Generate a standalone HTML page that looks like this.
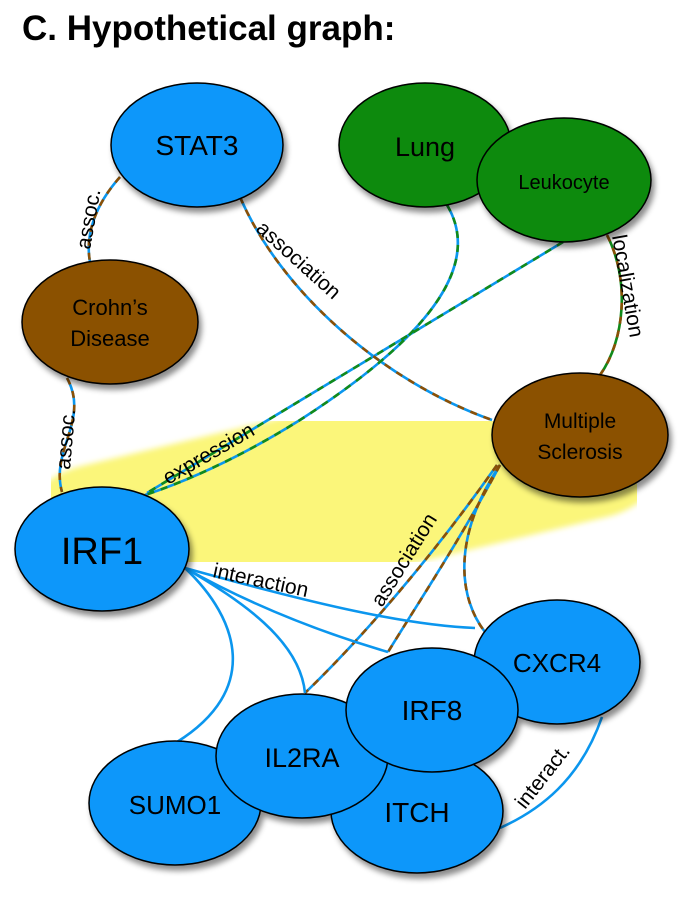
<!DOCTYPE html>
<html><head><meta charset="utf-8"><style>
body{margin:0;background:#fff;}
svg{display:block;}
text{font-family:"Liberation Sans",sans-serif;}
</style></head><body>
<svg width="695" height="900" viewBox="0 0 695 900">
<defs>
<filter id="sh" x="-20%" y="-20%" width="140%" height="150%"><feDropShadow dx="3" dy="5" stdDeviation="3" flood-color="#000" flood-opacity="0.45"/></filter>
<filter id="bl"><feGaussianBlur stdDeviation="3"/></filter>
</defs>
<text x="22" y="40" font-size="35" font-weight="bold" fill="#000">C. Hypothetical graph:</text>
<line x1="100" y1="550" x2="588" y2="433" stroke="#fbf67a" stroke-width="172" stroke-linecap="round" filter="url(#bl)"/>
<g fill="none" stroke-width="2.6">
<!-- bicolor brown/blue -->
<g stroke="#0b96ee">
<path d="M120,177 C95,205 85,235 90,262"/>
<path d="M240,197 C280,290 380,380 492,420"/>
<path d="M67,378 C90,420 50,450 62,492"/>
<path d="M497,465 C430,560 360,640 305,693"/>
<path d="M500,465 C460,540 420,600 388,652"/>
<path d="M500,465 C450,540 460,600 485,632"/>
<path d="M447,205 C480,260 440,330 300,420 C220,470 160,490 145,495"/>
<path d="M563,242 L147,493"/>
</g>
<g stroke="#8b5006" stroke-dasharray="7 7">
<path d="M120,177 C95,205 85,235 90,262"/>
<path d="M240,197 C280,290 380,380 492,420"/>
<path d="M67,378 C90,420 50,450 62,492"/>
<path d="M497,465 C430,560 360,640 305,693"/>
<path d="M500,465 C460,540 420,600 388,652"/>
<path d="M500,465 C450,540 460,600 485,632"/>
</g>
<g stroke="#118a1a" stroke-dasharray="7 7">
<path d="M447,205 C480,260 440,330 300,420 C220,470 160,490 145,495"/>
<path d="M563,242 L147,493"/>
</g>
<path d="M607,235 C630,280 625,340 600,375" stroke="#118a1a"/>
<path d="M607,235 C630,280 625,340 600,375" stroke="#8b5006" stroke-dasharray="7 7"/>
<!-- blue -->
<g stroke="#0b96ee">
<path d="M185,568 C300,600 400,625 475,628"/>
<path d="M185,568 C260,610 330,635 388,652"/>
<path d="M185,568 C240,600 300,640 305,693"/>
<path d="M185,568 C240,620 260,690 177,742"/>
<path d="M602,717 C580,780 540,810 500,828"/>
</g>
</g>
<g font-size="21" fill="#000">
<text transform="translate(90,250) rotate(-80)">assoc.</text>
<text transform="translate(70,470) rotate(-85)">assoc.</text>
<text transform="translate(255,230) rotate(42)">association</text>
<text transform="translate(168,485) rotate(-30)">expression</text>
<text transform="translate(612,236) rotate(80)">localization</text>
<text transform="translate(212,577) rotate(12)">interaction</text>
<text transform="translate(382,608) rotate(-58)">association</text>
<text transform="translate(525,810) rotate(-52)">interact.</text>
</g>
<g stroke="#000" stroke-width="1.5" filter="url(#sh)">
<ellipse cx="197" cy="145" rx="86" ry="62" fill="#0797fa"/>
<ellipse cx="425" cy="145" rx="86" ry="62" fill="#078a08"/>
<ellipse cx="564" cy="180" rx="87" ry="62" fill="#078a08"/>
<ellipse cx="110" cy="322" rx="88" ry="62" fill="#8b5103"/>
<ellipse cx="580" cy="435" rx="88" ry="62" fill="#8b5103"/>
<ellipse cx="102" cy="549" rx="87" ry="62" fill="#0797fa"/>
<ellipse cx="175" cy="803" rx="86" ry="62" fill="#0797fa"/>
<ellipse cx="417" cy="811" rx="86" ry="62" fill="#0797fa"/>
<ellipse cx="302" cy="756" rx="86" ry="62" fill="#0797fa"/>
<ellipse cx="557" cy="662" rx="83" ry="62" fill="#0797fa"/>
<ellipse cx="432" cy="710" rx="86" ry="62" fill="#0797fa"/>
</g>
<g fill="#000" text-anchor="middle">
<text x="197" y="155" font-size="28">STAT3</text>
<text x="425" y="156" font-size="27">Lung</text>
<text x="564" y="189" font-size="20">Leukocyte</text>
<text x="110" y="315" font-size="22">Crohn’s</text>
<text x="110" y="346" font-size="22">Disease</text>
<text x="580" y="428" font-size="21">Multiple</text>
<text x="580" y="459" font-size="21">Sclerosis</text>
<text x="102" y="564" font-size="38">IRF1</text>
<text x="175" y="814" font-size="26">SUMO1</text>
<text x="417" y="822" font-size="28">ITCH</text>
<text x="302" y="767" font-size="27">IL2RA</text>
<text x="557" y="672" font-size="26">CXCR4</text>
<text x="432" y="720" font-size="28">IRF8</text>
</g>
</svg>
</body></html>
